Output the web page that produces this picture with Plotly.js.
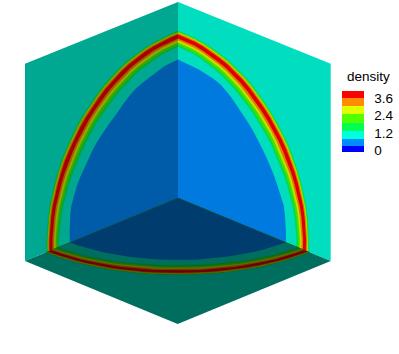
<!DOCTYPE html>
<html>
<head>
<meta charset="utf-8">
<script src="https://cdn.plot.ly/plotly-3.0.1.min.js"></script>
<style>html,body{margin:0;padding:0;background:#fff}#c{width:399px;height:354px}</style>
</head>
<body>
<div id="c"></div>
<script>
// Angle around the cube's back corner, in each face's own plane (degrees), step 3.75
const angles = [0,3.75,7.5,11.25,15,18.75,22.5,26.25,30,33.75,37.5,41.25,45,48.75,52.5,56.25,60,63.75,67.5,71.25,75,78.75,82.5,86.25,90];

// Radius of the shock crest (density maximum) on each face, cube edge = 1
const shockLeft   = [0.830,0.832,0.834,0.835,0.837,0.836,0.837,0.838,0.839,0.838,0.838,0.839,0.839,0.838,0.837,0.838,0.837,0.836,0.835,0.833,0.831,0.829,0.827,0.825,0.824];
const shockRight  = [0.828,0.831,0.833,0.835,0.837,0.838,0.838,0.839,0.838,0.840,0.840,0.839,0.839,0.838,0.837,0.838,0.838,0.836,0.836,0.833,0.832,0.830,0.829,0.826,0.824];
const shockBottom = [0.838,0.836,0.834,0.833,0.832,0.831,0.830,0.829,0.828,0.827,0.827,0.826,0.825,0.826,0.827,0.827,0.828,0.829,0.830,0.831,0.832,0.833,0.834,0.836,0.838];

// Radius where density falls into the low (blue) band on each face
const coreLeft   = [0.706,0.710,0.714,0.718,0.721,0.719,0.716,0.710,0.704,0.702,0.700,0.697,0.694,0.690,0.687,0.691,0.695,0.699,0.702,0.701,0.700,0.703,0.706,0.706,0.706];
const coreRight  = [0.706,0.709,0.712,0.714,0.716,0.711,0.706,0.704,0.702,0.700,0.698,0.699,0.700,0.702,0.704,0.709,0.714,0.719,0.724,0.720,0.716,0.712,0.708,0.707,0.706];
const coreBottom = [0.706,0.704,0.702,0.701,0.700,0.698,0.697,0.696,0.695,0.695,0.695,0.695,0.695,0.695,0.695,0.695,0.695,0.696,0.697,0.698,0.700,0.701,0.702,0.704,0.706];

// Density bands across the shock, outside to inside, as radius offsets from the crest
const bandOffsets = [0.036, 0.031, 0.026, 0.020, 0.012, -0.012, -0.024, -0.038, -0.053, -0.066];
const bandNames   = ['green', 'lime', 'yellow', 'orange', 'red', 'orange', 'yellow', 'lime', 'green', 'cyan'];
// How much thicker the shock reads at each angle
const bandSpread  = [0.80,0.82,0.85,0.88,0.92,0.96,1.00,1.04,1.08,1.10,1.10,1.10,1.10,1.10,1.10,1.10,1.08,1.04,1.00,0.96,0.92,0.88,0.85,0.82,0.80];

// Colour key
const keyLevels = [-0.16, 0.23, 0.76, 1.33, 1.9, 2.47, 3.05, 3.6, 4.1];
const keyNames  = ['navy', 'blue', 'cyan', 'green', 'lime', 'yellow', 'orange', 'red'];
const keyTicks  = [0, 1.2, 2.4, 3.6];
const keyTickText = ['0', '1.2', '2.4', '3.6'];
const keyTitle = 'density';

const palette = {
  navy: [0, 0, 255], blue: [0, 140, 255], cyan: [0, 255, 220], green: [0, 255, 80],
  lime: [80, 255, 0], yellow: [225, 255, 0], orange: [255, 140, 0], red: [255, 0, 0]
};

const origin = [178, 198];
const up = [0, -196], toLeft = [-153, 63], toRight = [152.7, 63];
const faces = [
  {u: toLeft,  v: up,      twist: [0, -1.2], shade: 0.66, shock: shockLeft,   core: coreLeft},
  {u: toRight, v: up,      twist: [0, -1.2], shade: 0.87, shock: shockRight,  core: coreRight},
  {u: toLeft,  v: toRight, twist: [0, 0],    shade: 0.43, shock: shockBottom, core: coreBottom}
];

function rgb(name, s) {
  const c = palette[name];
  return 'rgb(' + c.map(k => Math.round(k * s)).join(',') + ')';
}
function project(f, a, b) {
  return [origin[0] + a * f.u[0] + b * f.v[0] + a * b * f.twist[0],
          origin[1] + a * f.u[1] + b * f.v[1] + a * b * f.twist[1]];
}
function polygon(f, pts, color) {
  const xy = pts.map(p => project(f, p[0], p[1]));
  return {
    type: 'scatter', mode: 'lines', fill: 'toself', fillcolor: color,
    x: xy.map(p => p[0]), y: xy.map(p => p[1]),
    line: {width: 0, color: color}, hoverinfo: 'skip', showlegend: false
  };
}
function disc(f, radii, color) {
  const pts = [[0, 0]];
  angles.forEach((t, i) => {
    const r = radii[i], q = t * Math.PI / 180;
    pts.push([r * Math.cos(q), r * Math.sin(q)]);
  });
  return polygon(f, pts, color);
}

const traces = [];
faces.forEach(f => {
  traces.push(polygon(f, [[0, 0], [1, 0], [1, 1], [0, 1]], rgb('cyan', f.shade)));
  bandOffsets.forEach((d, k) => {
    traces.push(disc(f, f.shock.map((r, i) => r + d * bandSpread[i]), rgb(bandNames[k], f.shade)));
  });
  traces.push(disc(f, f.core, rgb('blue', f.shade)));
});

const lo = keyLevels[0], hi = keyLevels[keyLevels.length - 1];
const scale = [];
keyNames.forEach((n, i) => {
  scale.push([(keyLevels[i] - lo) / (hi - lo), rgb(n, 1)]);
  scale.push([(keyLevels[i + 1] - lo) / (hi - lo), rgb(n, 1)]);
});
traces.push({
  type: 'scatter', mode: 'markers', x: [-50], y: [-50], hoverinfo: 'skip', showlegend: false,
  marker: {
    size: 1, color: keyTicks, cmin: lo, cmax: hi, colorscale: scale, showscale: true,
    colorbar: {
      x: 342 / 399, xanchor: 'left', xpad: 0, ypad: 0,
      y: 1 - 152.3 / 354, yanchor: 'bottom',
      lenmode: 'pixels', len: 60.6, thicknessmode: 'pixels', thickness: 22,
      outlinewidth: 0, ticks: 'outside', ticklen: 8, tickcolor: 'rgba(0,0,0,0)',
      tickmode: 'array', tickvals: keyTicks, ticktext: keyTickText,
      tickfont: {family: 'Liberation Sans', size: 13.5, color: '#000'}
    }
  }
});

const layout = {
  width: 399, height: 354, paper_bgcolor: '#fff', plot_bgcolor: '#fff',
  margin: {l: 0, r: 0, t: 0, b: 0, pad: 0, autoexpand: false},
  xaxis: {range: [0, 399], visible: false, fixedrange: true},
  yaxis: {range: [354, 0], visible: false, fixedrange: true},
  showlegend: false,
  annotations: [{
    text: keyTitle, xref: 'paper', yref: 'paper', x: 368 / 399, y: 1 - 77 / 354,
    xanchor: 'center', yanchor: 'middle', showarrow: false,
    font: {family: 'Liberation Sans', size: 13.5, color: '#000'}
  }]
};
Plotly.newPlot('c', traces, layout, {displayModeBar: false, staticPlot: true});
</script>
</body>
</html>
